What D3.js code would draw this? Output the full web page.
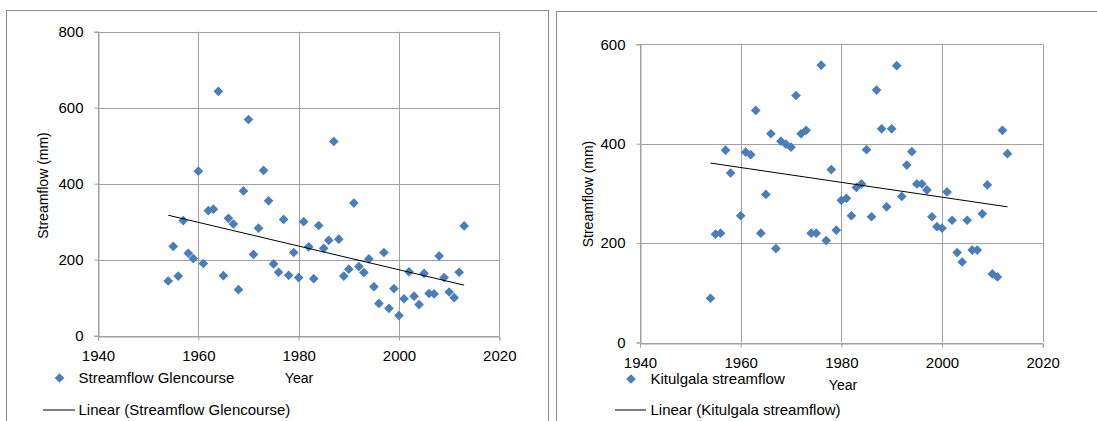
<!DOCTYPE html>
<html>
<head>
<meta charset="utf-8">
<script src="https://cdn.jsdelivr.net/npm/d3@7"></script>
<style>
  html, body { margin: 0; padding: 0; background: #fff; }
  svg { display: block; }
  text { font-family: "Liberation Sans", Arial, sans-serif; fill: #000; }
</style>
</head>
<body>
<svg id="chart" width="1097" height="421"></svg>
<script>
// ---- Data ----
const glencourseYears = [1954,1955,1956,1957,1958,1959,1960,1961,1962,1963,1964,1965,1966,1967,1968,1969,1970,1971,1972,1973,1974,1975,1976,1977,1978,1979,1980,1981,1982,1983,1984,1985,1986,1987,1988,1989,1990,1991,1992,1993,1994,1995,1996,1997,1998,1999,2000,2001,2002,2003,2004,2005,2006,2007,2008,2009,2010,2011,2012,2013];
const glencourseFlow = [144,235,157,303,217,203,433,190,329,333,643,158,309,294,121,381,569,214,283,435,355,189,167,306,159,219,153,300,234,150,290,230,251,511,254,157,175,349,182,166,202,129,85,219,72,124,53,97,168,104,82,164,111,110,210,153,115,100,167,289];
// linear trendline values at first and last year
const glencourseTrendYears = [1954, 2013];
const glencourseTrend = [317, 133];

const kitulgalaYears = [1954,1955,1956,1957,1958,1960,1961,1962,1963,1964,1965,1966,1967,1968,1969,1970,1971,1972,1973,1974,1975,1976,1977,1978,1979,1980,1981,1982,1983,1984,1985,1986,1987,1988,1989,1990,1991,1992,1993,1994,1995,1996,1997,1998,1999,2000,2001,2002,2003,2004,2005,2006,2007,2008,2009,2010,2011,2012,2013];
const kitulgalaFlow = [89,218,220,387,341,255,383,378,467,220,298,420,189,405,399,393,497,420,427,220,220,558,205,348,226,286,290,255,312,319,388,253,508,430,273,430,557,294,357,384,319,319,307,253,233,230,303,246,181,162,246,186,186,259,317,138,132,427,380];
const kitulgalaTrendYears = [1954, 2013];
const kitulgalaTrend = [361, 273];

const xTicks = [1940,1960,1980,2000,2020];
const leftYTicks = [0,200,400,600,800];
const rightYTicks = [0,200,400,600];

const leftLabels = {series: "Streamflow Glencourse", trend: "Linear (Streamflow Glencourse)", yTitle: "Streamflow (mm)", xTitle: "Year"};
const rightLabels = {series: "Kitulgala streamflow", trend: "Linear (Kitulgala streamflow)", yTitle: "Streamflow (mm)", xTitle: "Year"};

// ---- Drawing ----
const svg = d3.select("#chart");
const BLUE = "#4a7ebb";
const GRID = "#a0a0a0";

function panel(cfg) {
  svg.append("rect")
    .attr("x", cfg.frame[0] + 0.5).attr("y", cfg.frame[1] + 0.5)
    .attr("width", cfg.frame[2]).attr("height", 600)
    .attr("fill", "none").attr("stroke", "#8c8c8c").attr("stroke-width", 1);

  const x = d3.scaleLinear().domain([1940, 2020]).range([cfg.x0, cfg.x1]);
  const y = d3.scaleLinear().domain([0, cfg.yMax]).range([cfg.y0, cfg.y1]);
  const g = svg.append("g");

  g.append("g").selectAll("line").data(cfg.yTicks).join("line")
    .attr("x1", cfg.x0).attr("x2", cfg.x1)
    .attr("y1", d => Math.round(y(d)) + 0.5).attr("y2", d => Math.round(y(d)) + 0.5)
    .attr("stroke", GRID);
  g.append("g").selectAll("line").data(xTicks).join("line")
    .attr("y1", cfg.y0).attr("y2", cfg.y1)
    .attr("x1", d => Math.round(x(d)) + 0.5).attr("x2", d => Math.round(x(d)) + 0.5)
    .attr("stroke", GRID);

  const xa = d3.axisBottom(x).tickValues(xTicks).tickFormat(d3.format("d")).tickSize(4).tickPadding(10);
  const ya = d3.axisLeft(y).tickValues(cfg.yTicks).tickSize(4).tickPadding(11);
  const gx = g.append("g").attr("transform", `translate(0,${Math.round(cfg.y0)+0.5})`).call(xa);
  const gy = g.append("g").attr("transform", `translate(${Math.round(cfg.x0)+0.5},0)`).call(ya);
  [gx, gy].forEach(a => {
    a.select(".domain").attr("stroke", GRID);
    a.selectAll(".tick line").attr("stroke", GRID);
    a.selectAll("text").attr("font-size", 15).attr("font-family", "Liberation Sans, Arial, sans-serif").attr("fill", "#000");
  });
  gx.selectAll("text").attr("dy", "0.71em");

  const diamond = d3.symbol().type(d3.symbolDiamond2).size(60);
  g.append("g").selectAll("path").data(cfg.years.map((yr, i) => [yr, cfg.vals[i]])).join("path")
    .attr("d", diamond)
    .attr("transform", d => `translate(${x(d[0])},${y(d[1])})`)
    .attr("fill", BLUE);

  g.append("line")
    .attr("x1", x(cfg.trendYears[0])).attr("y1", y(cfg.trend[0]))
    .attr("x2", x(cfg.trendYears[1])).attr("y2", y(cfg.trend[1]))
    .attr("stroke", "#000").attr("stroke-width", 1);

  g.append("text")
    .attr("transform", `translate(${cfg.yTitle[0]},${cfg.yTitle[1]}) rotate(-90)`)
    .attr("text-anchor", "middle").attr("dy", "0.35em")
    .attr("font-size", 14).text(cfg.labels.yTitle);
  g.append("text").attr("x", cfg.xTitle[0]).attr("y", cfg.xTitle[1])
    .attr("text-anchor", "middle").attr("dy", "0.35em")
    .attr("font-size", 14).text(cfg.labels.xTitle);

  g.append("path").attr("d", diamond)
    .attr("transform", `translate(${cfg.leg1[0]},${cfg.leg1[1]})`).attr("fill", BLUE);
  g.append("text").attr("x", cfg.legText).attr("y", cfg.leg1[1]).attr("dy", "0.35em")
    .attr("font-size", 15).text(cfg.labels.series);
  g.append("line").attr("x1", cfg.leg2[0]).attr("x2", cfg.leg2[1])
    .attr("y1", cfg.leg2[2] + 0.5).attr("y2", cfg.leg2[2] + 0.5)
    .attr("stroke", "#000").attr("stroke-width", 1);
  g.append("text").attr("x", cfg.legText).attr("y", cfg.leg2[2]).attr("dy", "0.35em")
    .attr("font-size", 15).text(cfg.labels.trend);
}

panel({
  frame: [6, 10, 542],
  x0: 98, x1: 499.3, y0: 335.7, y1: 31.7, yMax: 800, yTicks: leftYTicks,
  years: glencourseYears, vals: glencourseFlow, labels: leftLabels,
  trendYears: glencourseTrendYears, trend: glencourseTrend,
  yTitle: [43.5, 185.5], xTitle: [299, 378],
  leg1: [59.5, 378], legText: 78.5, leg2: [43, 75, 409.5]
});

panel({
  frame: [556, 11, 600],
  x0: 640, x1: 1042.7, y0: 342.5, y1: 44.3, yMax: 600, yTicks: rightYTicks,
  years: kitulgalaYears, vals: kitulgalaFlow, labels: rightLabels,
  trendYears: kitulgalaTrendYears, trend: kitulgalaTrend,
  yTitle: [588, 194], xTitle: [843, 385.5],
  leg1: [631, 379], legText: 650.5, leg2: [615, 646, 409.5]
});
</script>
</body>
</html>
